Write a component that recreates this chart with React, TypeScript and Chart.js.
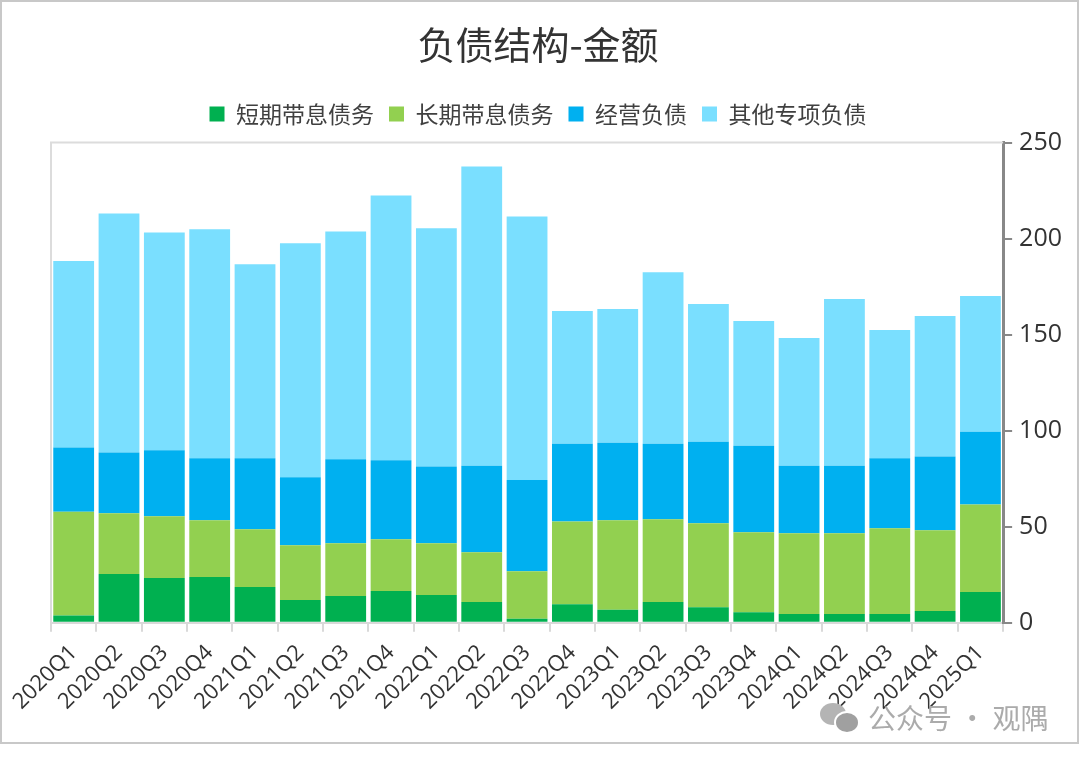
import React, { useRef, useEffect } from 'react';
import { Chart, registerables } from 'chart.js';

Chart.register(...registerables);

// 季度
const quarters = [
  '2020Q1', '2020Q2', '2020Q3', '2020Q4',
  '2021Q1', '2021Q2', '2021Q3', '2021Q4',
  '2022Q1', '2022Q2', '2022Q3', '2022Q4',
  '2023Q1', '2023Q2', '2023Q3', '2023Q4',
  '2024Q1', '2024Q2', '2024Q3', '2024Q4',
  '2025Q1',
];

// 各项负债金额
const shortDebt = [3.8, 25.4, 23.3, 23.8, 18.6, 11.8, 13.9, 16.5, 14.4, 10.8, 2.1, 9.7, 6.8, 10.8, 8.1, 5.5, 4.5, 4.5, 4.5, 6.1, 16.0];
const longDebt = [54.0, 31.6, 32.2, 29.6, 30.1, 28.5, 27.5, 27.0, 27.0, 25.9, 24.7, 43.0, 46.6, 43.1, 43.7, 41.6, 42.1, 42.1, 44.7, 42.1, 45.6];
const operatingDebt = [33.4, 31.7, 34.3, 32.2, 36.9, 35.4, 43.7, 41.1, 40.0, 45.0, 47.5, 40.5, 40.3, 39.3, 42.5, 45.1, 35.1, 35.1, 36.4, 38.4, 37.9];
const otherDebt = [97.2, 124.4, 113.4, 119.3, 101.0, 121.9, 118.6, 137.9, 124.0, 155.9, 137.2, 69.1, 69.7, 89.3, 71.7, 64.9, 66.5, 86.9, 66.8, 73.1, 70.6];

const yTicks = [0, 50, 100, 150, 200, 250];

const cjkFont = "'Noto Sans CJK SC', 'Noto Sans', sans-serif";
const numFont = "'Open Sans', 'Noto Sans', sans-serif";

// 绘图区左、上边框
const plotBorder = {
  id: 'plotBorder',
  beforeDatasetsDraw(chart: Chart) {
    const { ctx, chartArea } = chart;
    ctx.save();
    ctx.strokeStyle = '#dcdcdc';
    ctx.lineWidth = 2;
    ctx.beginPath();
    ctx.moveTo(chartArea.left, chartArea.bottom);
    ctx.lineTo(chartArea.left, chartArea.top);
    ctx.lineTo(chartArea.right, chartArea.top);
    ctx.stroke();
    ctx.restore();
  },
};

// 占位轴，只用来留空
const spacerAxis = (position: 'left' | 'top', size: number) => ({
  position,
  axis: position === 'left' ? 'y' : 'x',
  display: true,
  grid: { display: false },
  border: { display: false },
  ticks: { display: false },
  afterFit: (scale: any) => {
    if (position === 'left') scale.width = size;
    else scale.height = size;
  },
});

const DebtChart: React.FC = () => {
  const chartRef = useRef<HTMLCanvasElement>(null);
  const chartInstance = useRef<Chart | null>(null);

  useEffect(() => {
    if (!chartRef.current) return;
    if (chartInstance.current) chartInstance.current.destroy();

    const bar = (label: string, data: number[], color: string) => ({
      label,
      data,
      xAxisID: 'x',
      yAxisID: 'y',
      backgroundColor: color,
      borderWidth: 0,
      barPercentage: 0.9,
      categoryPercentage: 1,
    });

    chartInstance.current = new Chart(chartRef.current, {
      type: 'bar',
      data: {
        labels: quarters,
        datasets: [
          bar('短期带息债务', shortDebt, '#00b050'),
          bar('长期带息债务', longDebt, '#92d050'),
          bar('经营负债', operatingDebt, '#00b0f0'),
          bar('其他专项负债', otherDebt, '#7adfff'),
        ],
      },
      options: {
        responsive: true,
        maintainAspectRatio: false,
        animation: false,
        layout: { padding: { left: 5, right: 8, top: 0, bottom: 19 } },
        plugins: {
          title: {
            display: true,
            text: '负债结构-金额',
            color: '#333333',
            font: { family: cjkFont, size: 38, weight: 'normal' },
            padding: { top: 20, bottom: 20 },
          },
          legend: {
            position: 'top',
            labels: {
              color: '#404040',
              font: { family: cjkFont, size: 23 },
              boxWidth: 15,
              boxHeight: 15,
              padding: 15,
            },
          },
          tooltip: { enabled: false },
        },
        scales: {
          x: {
            type: 'category',
            stacked: true,
            grid: {
              offset: true,
              drawOnChartArea: false,
              color: '#d9d9d9',
              lineWidth: 2,
              tickLength: 9,
            },
            border: { color: '#d9d9d9', width: 2 },
            ticks: {
              color: '#333333',
              font: { family: numFont, size: 22 },
              maxRotation: 45,
              minRotation: 45,
              autoSkip: false,
              padding: 8,
            },
          },
          xTop: { type: 'category', ...spacerAxis('top', 7) },
          yLeft: { type: 'linear', ...spacerAxis('left', 44) },
          y: {
            type: 'linear',
            stacked: true,
            position: 'right',
            min: 0,
            max: 250,
            afterBuildTicks: (scale: any) => {
              scale.ticks = yTicks.map((v) => ({ value: v }));
            },
            grid: {
              drawOnChartArea: false,
              color: '#888888',
              lineWidth: 2,
              tickLength: 9,
            },
            border: { color: '#888888', width: 3 },
            ticks: {
              color: '#333333',
              font: { family: numFont, size: 25 },
              padding: 7,
            },
          },
        },
      },
      plugins: [plotBorder],
    });

    return () => {
      if (chartInstance.current) {
        chartInstance.current.destroy();
        chartInstance.current = null;
      }
    };
  }, []);

  return (
    <div style={{ position: 'relative', width: 1075, height: 740 }}>
      <canvas ref={chartRef}></canvas>
    </div>
  );
};

const App: React.FC = () => {
  return (
    <div
      style={{
        position: 'fixed',
        left: 0,
        top: 0,
        width: 1079,
        height: 744,
        border: '2px solid #c8c8c8',
        boxSizing: 'border-box',
        background: '#ffffff',
      }}
    >
      <DebtChart />
      {/* 水印 */}
      <div
        style={{
          position: 'absolute',
          left: 818,
          top: 699,
          display: 'flex',
          alignItems: 'center',
          color: '#ababab',
          fontFamily: cjkFont,
          fontSize: 28,
          lineHeight: '32px',
          pointerEvents: 'none',
        }}
      >
        <div style={{ position: 'relative', width: 40, height: 32, marginRight: 8 }}>
          <div style={{ position: 'absolute', left: 0, top: 2, width: 26, height: 22, borderRadius: '50%', background: '#b4b4b4' }} />
          <div style={{ position: 'absolute', left: 14, top: 10, width: 22, height: 19, borderRadius: '50%', background: '#a0a0a0', border: '2px solid #ffffff' }} />
        </div>
        <span>公众号 · 观隅</span>
      </div>
    </div>
  );
};

export default App;
